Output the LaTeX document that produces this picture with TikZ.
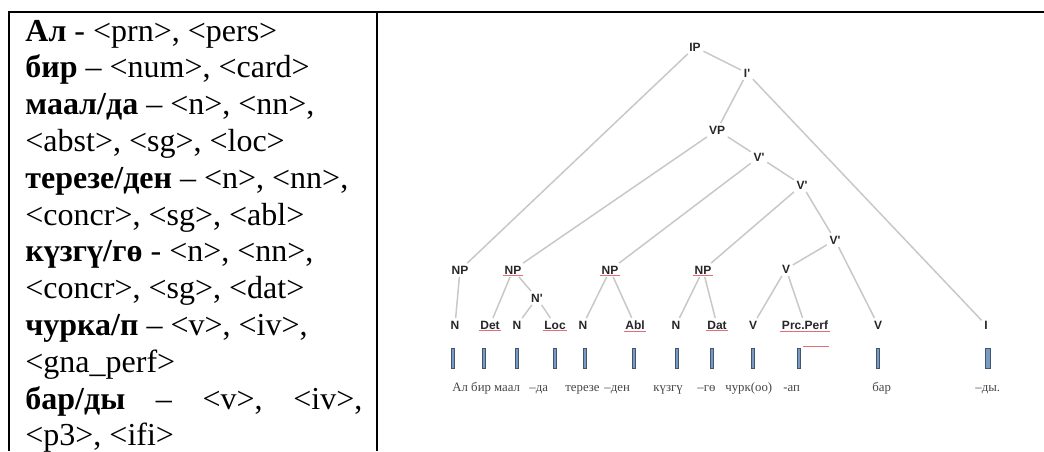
\documentclass[tikz,border=0pt]{standalone}
\usepackage{fontspec}
\setmainfont{Liberation Serif}
\newfontfamily\treefont{Liberation Sans}
\definecolor{edgegrey}{RGB}{200,200,200}
\definecolor{barblue}{RGB}{120,155,195}
\definecolor{ulred}{RGB}{225,110,120}
\definecolor{wordgrey}{RGB}{70,70,70}
\tikzset{
  ltxt/.style={anchor=base west, inner sep=0pt, font=\fontsize{16}{18.4}\selectfont},
  lab/.style={font=\treefont\bfseries\fontsize{6}{7}\selectfont, inner sep=1.2pt, text=black!85},
  edge/.style={draw=edgegrey, line width=0.75pt},
  barnode/.style={draw=barblue!55!black, fill=barblue, line width=0.25pt, minimum width=1.7pt, minimum height=10pt, inner sep=0pt},
  ul/.style={draw=ulred, line width=0.4pt},
  word/.style={anchor=base west, inner sep=0pt, text=wordgrey, font=\fontsize{6.4}{7}\selectfont},
  frame/.style={line width=1pt}
}
\begin{document}
\begin{tikzpicture}[x=0.5pt,y=-0.5pt]
\useasboundingbox (0,0) rectangle (1044,451);
% table frame
\coordinate (tl) at (8,12); \coordinate (tr) at (1044,12);
\coordinate (lb) at (9,451); \coordinate (lt) at (9,12);
\coordinate (mt) at (377,12); \coordinate (mb) at (377,451);
\draw[frame] (tl) -- (tr);
\draw[frame] (lt) -- (lb);
\draw[frame] (mt) -- (mb);
% left column
\node[ltxt] (l1) at (25,41) {\textbf{Ал} - <prn>, <pers>};
\node[ltxt] (l2) at (25,77.8) {\textbf{бир} – <num>, <card>};
\node[ltxt] (l3) at (25,114.6) {\textbf{маал/да} – <n>, <nn>,};
\node[ltxt] (l4) at (25,151.4) {<abst>, <sg>, <loc>};
\node[ltxt] (l5) at (25,188.2) {\textbf{терезе/ден} – <n>, <nn>,};
\node[ltxt] (l6) at (25,225) {<concr>, <sg>, <abl>};
\node[ltxt] (l7) at (25,261.8) {\textbf{күзгү/гө} - <n>, <nn>,};
\node[ltxt] (l8) at (25,298.6) {<concr>, <sg>, <dat>};
\node[ltxt] (l9) at (25,335.4) {\textbf{чурка/п} – <v>, <iv>,};
\node[ltxt] (l10) at (25,372.2) {<gna\_perf>};
\node[ltxt] (l11) at (25,409) {\hbox to 168.5pt{\textbf{бар/ды}\hfill–\hfill<v>,\hfill<iv>,}};
\node[ltxt] (l12) at (25,445.8) {<p3>, <ifi>};
% tree labels
\node[lab] (ip) at (695,47) {IP};
\node[lab] (ibar) at (747,73) {I'};
\node[lab] (vp) at (717,130) {VP};
\node[lab] (v1) at (759,157) {V'};
\node[lab] (v2) at (802,185) {V'};
\node[lab] (v3) at (835,240) {V'};
\node[lab] (vm) at (786,269) {V};
\node[lab] (np1) at (460,270) {NP};
\node[lab] (np2) at (513,270) {NP};
\node[lab] (np3) at (610,270) {NP};
\node[lab] (np4) at (703,270) {NP};
\node[lab] (nbar) at (537,298) {N'};
\node[lab] (n1) at (455,325) {N};
\node[lab] (det1) at (490,325) {Det};
\node[lab] (n2) at (517,325) {N};
\node[lab] (loc) at (555,325) {Loc};
\node[lab] (n3) at (583,325) {N};
\node[lab] (abl) at (635,325) {Abl};
\node[lab] (n4) at (676,325) {N};
\node[lab] (det2) at (717,325) {Dat};
\node[lab] (vl) at (753,325) {V};
\node[lab] (prc) at (805,325) {Prc.Perf};
\node[lab] (vb) at (878,325) {V};
\node[lab] (il) at (986,325) {I};
% edges
\draw[edge] (ip) -- (np1);
\draw[edge] (ip) -- (ibar);
\draw[edge] (ibar) -- (vp);
\draw[edge] (ibar) -- (il);
\draw[edge] (vp) -- (np2);
\draw[edge] (vp) -- (v1);
\draw[edge] (v1) -- (np3);
\draw[edge] (v1) -- (v2);
\draw[edge] (v2) -- (np4);
\draw[edge] (v2) -- (v3);
\draw[edge] (v3) -- (vm);
\draw[edge] (v3) -- (vb);
\draw[edge] (vm) -- (vl);
\draw[edge] (vm) -- (prc);
\draw[edge] (np1) -- (n1);
\draw[edge] (np2) -- (det1);
\draw[edge] (np2) -- (nbar);
\draw[edge] (nbar) -- (n2);
\draw[edge] (nbar) -- (loc);
\draw[edge] (np3) -- (n3);
\draw[edge] (np3) -- (abl);
\draw[edge] (np4) -- (n4);
\draw[edge] (np4) -- (det2);
% red spell-check underlines
\foreach \n in {np2,np3,np4,det1,loc,abl,det2,prc}{
  \draw[ul] ([xshift=0.5pt,yshift=0.6pt]\n.south west) -- ([xshift=-0.5pt,yshift=0.6pt]\n.south east);
}
% bars
\foreach \nm/\xx in {b1/453,b2/484,b3/517,b4/555,b5/585,b6/634,b7/677,b8/712,b9/753,b10/799,b11/878}{
  \node[barnode] (\nm) at (\xx,358) {};
}
\node[barnode, minimum width=2.5pt] (b12) at (988,358) {};
\coordinate (rl1) at (803,346); \coordinate (rl2) at (829,346);
\draw[ul] (rl1) -- (rl2);
% words
\node[word] (w1) at (452,391) {Ал бир маал};
\node[word] (w4) at (529,391) {–да};
\node[word] (w5) at (565,391) {терезе};
\node[word] (w6) at (604,391) {–ден};
\node[word] (w7) at (653,391) {күзгү};
\node[word] (w8) at (697,391) {–гө};
\node[word] (w9) at (725,391) {чурк(оо)};
\node[word] (w10) at (783,391) {-ап};
\node[word] (w11) at (872,391) {бар};
\node[word] (w12) at (975,391) {–ды.};
\end{tikzpicture}
\end{document}
